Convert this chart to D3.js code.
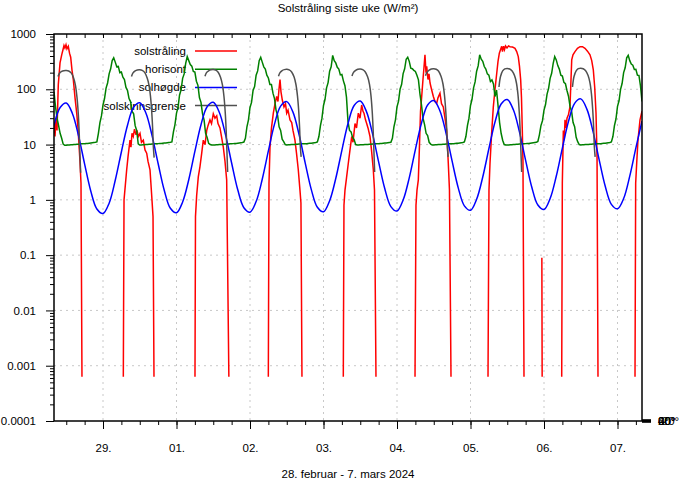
<!DOCTYPE html>
<meta charset="utf-8">
<head>
    <title>Solstråling siste uke</title>
    <script src="https://cdn.jsdelivr.net/npm/d3@7"></script>
    <style>
        body { margin: 0; background: #fff; }
        text { font-family: "Liberation Sans", Arial, sans-serif; font-size: 11.5px; fill: #000; }
        .grid line { stroke: #c8c8c8; stroke-dasharray: 2,4; }
    </style>
</head>
<body>
<div id="chart"></div>
<script>

// timer regnes fra 28. februar 2024 kl 00:00
// solstråling (W/m²): [time, verdi], null = brudd i kurven (natt)
var solstraling = [
  [8.0, 25], [8.33, 14], [8.65, 30], [8.98, 18], [9.4, 120], [9.96, 300], [10.51, 420], [10.94, 520],
  [11.27, 620], [11.59, 560], [11.92, 640], [12.24, 540], [12.67, 600], [13.06, 450], [13.45, 380],
  [13.88, 220], [14.3, 150], [14.86, 70], [15.41, 37], [15.84, 20], [16.49, 5], [16.82, 2], [17.14, 0.00063], null,
  [30.63, 0.00063], [30.86, 1.0], [31.74, 3.5], [32.16, 6], [32.82, 12], [33.14, 9], [33.47, 16], [33.89, 14],
  [34.28, 19], [34.78, 15], [35.1, 18], [35.53, 14], [36.08, 16], [36.57, 11], [37.16, 12], [37.71, 8],
  [38.27, 7], [38.69, 5], [39.35, 3.5], [39.9, 1.2], [40.33, 0.5], [40.65, 0.00063], null,
  [54.04, 0.00063], [54.2, 0.5], [54.59, 1.2], [55.12, 2.6], [55.67, 4], [56.23, 7], [56.75, 12], [57.31, 10],
  [57.86, 18], [58.29, 22], [58.94, 28], [59.43, 24], [60.02, 36], [60.57, 30], [61.13, 33], [61.55, 24],
  [62.2, 20], [62.69, 14], [63.28, 9], [63.84, 5], [64.39, 2.3], [65.1, 0.00063], null,
  [77.98, 0.00063], [78.2, 2], [78.53, 9], [79.02, 20], [79.61, 37], [80.16, 55], [80.71, 74], [81.14, 60],
  [81.47, 100], [81.8, 150], [82.12, 90], [82.55, 64], [83.1, 48], [83.59, 55], [83.98, 37], [84.41, 42],
  [85.06, 28], [85.62, 25], [86.04, 18], [86.69, 12], [87.18, 7], [87.76, 3.5], [88.31, 1.5], [88.64, 0.88],
  [88.97, 0.00063], null,
  [102.47, 0.00063], [102.69, 0.8], [103.02, 1.5], [103.51, 2.5], [104.1, 4.6], [104.65, 8], [105.21, 14],
  [105.63, 11], [106.29, 24], [106.78, 20], [107.36, 37], [107.92, 30], [108.47, 52], [108.9, 40], [109.22, 37],
  [109.71, 28], [110.1, 24], [110.53, 20], [111.18, 14], [111.67, 8], [112.26, 3.5], [112.65, 1.5],
  [113.14, 0.00063], null,
  [125.88, 0.00063], [126.2, 0.8], [126.53, 1.5], [126.96, 2.3], [127.35, 10], [127.68, 40], [128.07, 74],
  [128.49, 150], [128.82, 250], [129.14, 420], [129.47, 200], [129.7, 260], [130.12, 150], [130.45, 190],
  [130.78, 130], [131.27, 100], [131.86, 74], [132.41, 60], [132.96, 56], [133.39, 70], [134.04, 85],
  [134.53, 55], [135.12, 48], [135.67, 30], [136.23, 18], [136.75, 4.6], [137.14, 1.5], [137.63, 0.00063], null,
  [149.71, 0.00063], [150.04, 1.5], [150.37, 4.6], [150.86, 15], [151.45, 48], [152.0, 100], [152.56, 195],
  [152.98, 320], [153.41, 450], [153.8, 520], [154.19, 600], [154.45, 480], [154.78, 600], [155.1, 520],
  [155.43, 610], [155.92, 560], [156.41, 610], [156.9, 590], [157.71, 580], [158.53, 550], [159.08, 480],
  [159.6, 390], [160.0, 260], [160.39, 148], [160.65, 70], [160.91, 18], [161.14, 5], [161.47, 0.00063], null,
  [167.3, 0.09], [167.4, 0.00063], null,
  [173.78, 0.00063], [173.98, 2], [174.31, 18], [174.6, 12], [174.86, 28], [175.18, 20], [175.51, 30],
  [176.0, 35], [176.49, 48], [176.75, 120], [177.05, 340], [177.47, 420], [178.12, 480], [178.94, 550],
  [179.76, 590], [180.57, 590], [181.39, 550], [182.2, 490], [183.02, 420], [183.58, 330], [184.1, 225],
  [184.55, 110], [184.98, 37], [185.31, 6], [185.63, 0.00063], null,
  [197.71, 0.00063], [197.94, 2], [198.27, 4.6], [198.69, 12], [199.35, 28], [200.0, 40]
];

// horisont: hver halvtime fra 28. feb kl 08:00, en rad per døgn
var horisont = [
  90, 48, 30, 22, 16, 13, 10.2, 9.7,
  9.7, 9.8, 9.8, 9.9, 9.9, 10, 10, 10.1, 10.1, 10.2, 10.3, 10.3, 10.4, 10.5, 10.5, 10.6, 10.7, 10.8, 10.9, 11, 11.2,
  16, 25, 33, 52, 68, 105, 130, 190, 235, 330, 370,
  310, 255, 260, 200, 205, 165, 150, 108,

  95, 68, 60, 40, 36, 22, 18, 10.3,
  9.8, 9.8, 9.9, 9.9, 10, 10, 10.1, 10.1, 10.2, 10.2, 10.3, 10.3, 10.4, 10.5, 10.5, 10.6, 10.7, 10.7, 10.8, 10.9, 11,
  11.2, 17, 23, 37, 47, 79, 98, 158, 190, 295, 390,
  330, 280, 262, 210, 205, 140, 118, 70,

  58, 36, 28, 16, 13.5, 10.5, 10, 9.8,
  9.8, 9.8, 9.9, 9.9, 10, 10, 10, 10.1, 10.1, 10.2, 10.2, 10.3, 10.3, 10.4, 10.5, 10.5, 10.6, 10.7, 10.8, 10.9, 11.1,
  13, 21, 28, 47, 58, 95, 112, 180, 215, 330, 380,
  310, 255, 232, 180, 160, 122, 122, 85,

  68, 42, 34, 21, 18, 12.5, 11.3, 10,
  9.8, 9.9, 9.9, 10, 10, 10, 10.1, 10.1, 10.2, 10.2, 10.3, 10.3, 10.4, 10.4, 10.5, 10.6, 10.6, 10.7, 10.8, 10.9, 11.2,
  14, 22, 30, 51, 66, 106, 132, 212, 255, 410, 330,
  300, 250, 232, 182, 185, 142, 116, 72,

  26, 18, 17, 13.5, 12.3, 10, 9.8, 9.8,
  9.9, 9.9, 9.9, 10, 10, 10, 10.1, 10.1, 10.2, 10.2, 10.3, 10.3, 10.4, 10.5, 10.5, 10.6, 10.7, 10.7, 10.8, 10.9, 11,
  13, 21, 28, 48, 61, 100, 122, 192, 235, 350, 380,
  320, 240, 235, 220, 210, 180, 148, 82,

  52, 30, 23, 16, 14.5, 11, 10.2, 9.8,
  9.8, 9.9, 9.9, 10, 10, 10, 10.1, 10.1, 10.2, 10.2, 10.3, 10.3, 10.4, 10.4, 10.5, 10.6, 10.6, 10.7, 10.8, 10.9, 11.2,
  14, 22, 30, 51, 66, 106, 136, 212, 265, 420, 350,
  320, 258, 232, 190, 180, 138, 148, 125,

  74, 97, 50, 25, 16, 12, 10, 9.8,
  9.8, 9.8, 9.9, 9.9, 10, 10, 10.1, 10.1, 10.2, 10.2, 10.3, 10.3, 10.4, 10.5, 10.5, 10.6, 10.7, 10.8, 10.9, 11, 11.4,
  15, 22, 27, 42, 53, 82, 104, 158, 195, 295, 390,
  340, 268, 232, 180, 174, 133, 126, 95,

  75, 49, 40, 25, 21, 13.5, 11.3, 10,
  9.8, 9.9, 9.9, 10, 10, 10, 10.1, 10.1, 10.2, 10.2, 10.3, 10.3, 10.4, 10.4, 10.5, 10.6, 10.6, 10.7, 10.8, 10.9, 11.2,
  14, 22, 29, 49, 62, 100, 127, 200, 245, 370, 410,
  330, 285, 272, 228, 230, 180, 178, 115,
  60
];

// solhøgde: annenhver time fra 28. feb kl 08:00
var solhogde = [
  22.0, 46.7, 56.3, 36.6, 14.5, 4.44, 1.45, 0.684, 0.567, 0.871, 2.26, 7.35,
  22.4, 47.5, 57.2, 37.3, 14.7, 4.54, 1.49, 0.703, 0.583, 0.916, 2.31, 7.51,
  22.9, 48.4, 58.3, 38.0, 15.1, 4.64, 1.52, 0.72, 0.598, 0.931, 2.36, 7.67,
  23.4, 49.6, 59.8, 39.0, 15.4, 4.73, 1.55, 0.733, 0.608, 0.962, 2.43, 7.88,
  24.0, 50.8, 61.2, 39.9, 15.8, 4.87, 1.60, 0.756, 0.627, 0.992, 2.50, 8.11,
  24.6, 52.1, 62.7, 41.0, 16.2, 5.01, 1.65, 0.78, 0.648, 1.025, 2.59, 8.40,
  25.6, 54.1, 65.2, 42.5, 16.8, 5.19, 1.71, 0.806, 0.669, 1.055, 2.67, 8.65,
  26.3, 55.7, 67.1, 43.8, 17.3, 5.35, 1.76, 0.83, 0.689, 1.055, 2.69, 8.7,
  26.6
];

// solskinnsgrense: klokkeslett (timer) og én rad verdier per dag
var grenseKlokke = [9.3, 9.8, 10.5, 11.2, 12.0, 12.8, 13.6, 14.4, 15.0, 15.5, 15.9, 16.2, 16.45, 16.7];
var grenseVerdi = [
  [170, 195, 210, 217, 218, 214, 198, 160, 118, 72, 38, 18, 7, 3.1],
  [170, 198, 215, 224, 226, 220, 202, 162, 120, 75, 40, 20, 9, 5.8],
  [172, 200, 216, 225, 228, 222, 204, 164, 120, 74, 39, 19, 8, 3.2],
  [172, 200, 218, 227, 230, 224, 206, 166, 122, 76, 41, 20, 9, 6],
  [174, 202, 220, 230, 233, 227, 208, 168, 124, 77, 40, 19, 8, 3.2],
  [175, 204, 222, 233, 236, 230, 212, 170, 126, 78, 42, 21, 9, 6],
  [110, 170, 215, 234, 238, 233, 215, 175, 130, 80, 40, 19, 8, 3.2],
  [110, 170, 216, 236, 240, 235, 217, 177, 132, 82, 43, 21, 9, 6]
];

var yTicks = [0.0001, 0.001, 0.01, 0.1, 1, 10, 100, 1000];
var y2Labels = ["-20°", "0°", "20°", "40°", "60°"];
var legendNames = ["solstråling", "horisont", "solhøgde", "solskinnsgrense"];
var colors = ["#ff0000", "#008000", "#0000ff", "#505050"];

var width = 681, height = 480;
var margin = {top: 34, right: 39, bottom: 59, left: 54};
var x0 = margin.left, x1 = width - margin.right,
    y0 = height - margin.bottom, y1 = margin.top;

function tid(h) { return new Date(2024, 1, 28, 0, Math.round(h * 60)); }

var x = d3.scaleTime()
    .domain([new Date(2024, 1, 28, 8), new Date(2024, 2, 7, 8)])
    .range([x0, x1]);
var y = d3.scaleLog().domain([1e-4, 1000]).range([y0, y1]);

var svg = d3.select("#chart").append("svg")
    .attr("width", width).attr("height", height);

svg.append("defs").append("clipPath").attr("id", "clip")
  .append("rect").attr("x", x0).attr("y", y1).attr("width", x1 - x0).attr("height", y0 - y1);

// grid
var days = d3.timeDay.range(x.domain()[0], x.domain()[1]);
var grid = svg.append("g").attr("class", "grid");
grid.selectAll(".gx").data(days).enter().append("line")
    .attr("x1", d => x(d)).attr("x2", d => x(d)).attr("y1", y1).attr("y2", y0);
grid.selectAll(".gy").data(yTicks.slice(1, -1)).enter().append("line")
    .attr("x1", x0).attr("x2", x1).attr("y1", d => y(d)).attr("y2", d => y(d));

// x axis
svg.append("g").attr("transform", "translate(0," + y0 + ")")
    .call(d3.axisBottom(x).ticks(d3.timeDay.every(1)).tickFormat(d3.timeFormat("%d.")).tickSize(8).tickPadding(15));
svg.append("g").attr("transform", "translate(0," + y0 + ")")
    .call(d3.axisBottom(x).ticks(d3.timeHour.every(6)).tickFormat("").tickSize(4));
svg.append("g").attr("transform", "translate(0," + y1 + ")")
    .call(d3.axisTop(x).ticks(d3.timeHour.every(6)).tickFormat("").tickSize(-4));

// y axis
var minor = [];
yTicks.slice(0, -1).forEach(function(d) { for (var k = 2; k < 10; k++) minor.push(d * k); });
svg.append("g").attr("transform", "translate(" + x0 + ",0)")
    .call(d3.axisLeft(y).tickValues(yTicks).tickFormat(d3.format("~g")).tickSize(8).tickPadding(10));
svg.append("g").attr("transform", "translate(" + x0 + ",0)")
    .call(d3.axisLeft(y).tickValues(minor).tickFormat("").tickSize(4));

svg.selectAll(".domain").remove();
svg.selectAll(".tick line").attr("stroke", "#000");
svg.selectAll(".tick text").style("font-size", "11.5px").attr("fill", "#000");

// sammenfalt høyre akse (grader)
var y2 = svg.append("g");
y2.selectAll("line").data(y2Labels).enter().append("line")
    .attr("x1", x1).attr("x2", x1 + 9)
    .attr("y1", (d, i) => y0 - 1 + i * 0.5).attr("y2", (d, i) => y0 - 1 + i * 0.5)
    .attr("stroke", "#000").attr("stroke-width", 1.5);
y2.selectAll("text").data(y2Labels).enter().append("text")
    .attr("x", x1 + 16).attr("y", y0 + 4).text(d => d);

// legend
var legend = svg.append("g");
legendNames.forEach(function(name, i) {
  var ly = 51 + i * 18.2;
  legend.append("text").attr("x", 186).attr("y", ly + 4)
      .attr("text-anchor", "end").text(name);
  legend.append("line").attr("x1", 195).attr("x2", 237)
      .attr("y1", ly).attr("y2", ly)
      .attr("stroke", colors[i]).attr("stroke-width", 1.5);
});

var plot = svg.append("g").attr("clip-path", "url(#clip)");
var line = d3.line().defined(d => d != null)
    .x(d => x(tid(d[0]))).y(d => y(d[1]));
var smooth = d3.line().curve(d3.curveCatmullRom)
    .x(d => x(tid(d[0]))).y(d => y(d[1]));

plot.append("path").datum(solstraling)
    .attr("d", line).attr("fill", "none").attr("stroke", colors[0]).attr("stroke-width", 1.5);

plot.append("path").datum(horisont.map((v, i) => [8 + i * 0.5, v]))
    .attr("d", line).attr("fill", "none").attr("stroke", colors[1]).attr("stroke-width", 1.5);

plot.append("path").datum(solhogde.map((v, i) => [8 + i * 2, v]))
    .attr("d", smooth).attr("fill", "none").attr("stroke", colors[2]).attr("stroke-width", 1.5);

grenseVerdi.forEach(function(rad, dag) {
  plot.append("path").datum(rad.map((v, i) => [dag * 24 + grenseKlokke[i], v]))
      .attr("d", smooth).attr("fill", "none").attr("stroke", colors[3]).attr("stroke-width", 1.5);
});

// ramme
svg.append("rect").attr("x", x0).attr("y", y1).attr("width", x1 - x0).attr("height", y0 - y1)
    .attr("fill", "none").attr("stroke", "#000").attr("stroke-width", 1.5);

// titler
svg.append("text").attr("x", (x0 + x1) / 2).attr("y", 12).attr("text-anchor", "middle")
    .text("Solstråling siste uke (W/m²)");
svg.append("text").attr("x", (x0 + x1) / 2).attr("y", 478).attr("text-anchor", "middle")
    .text("28. februar - 7. mars 2024");

</script>
</body>
